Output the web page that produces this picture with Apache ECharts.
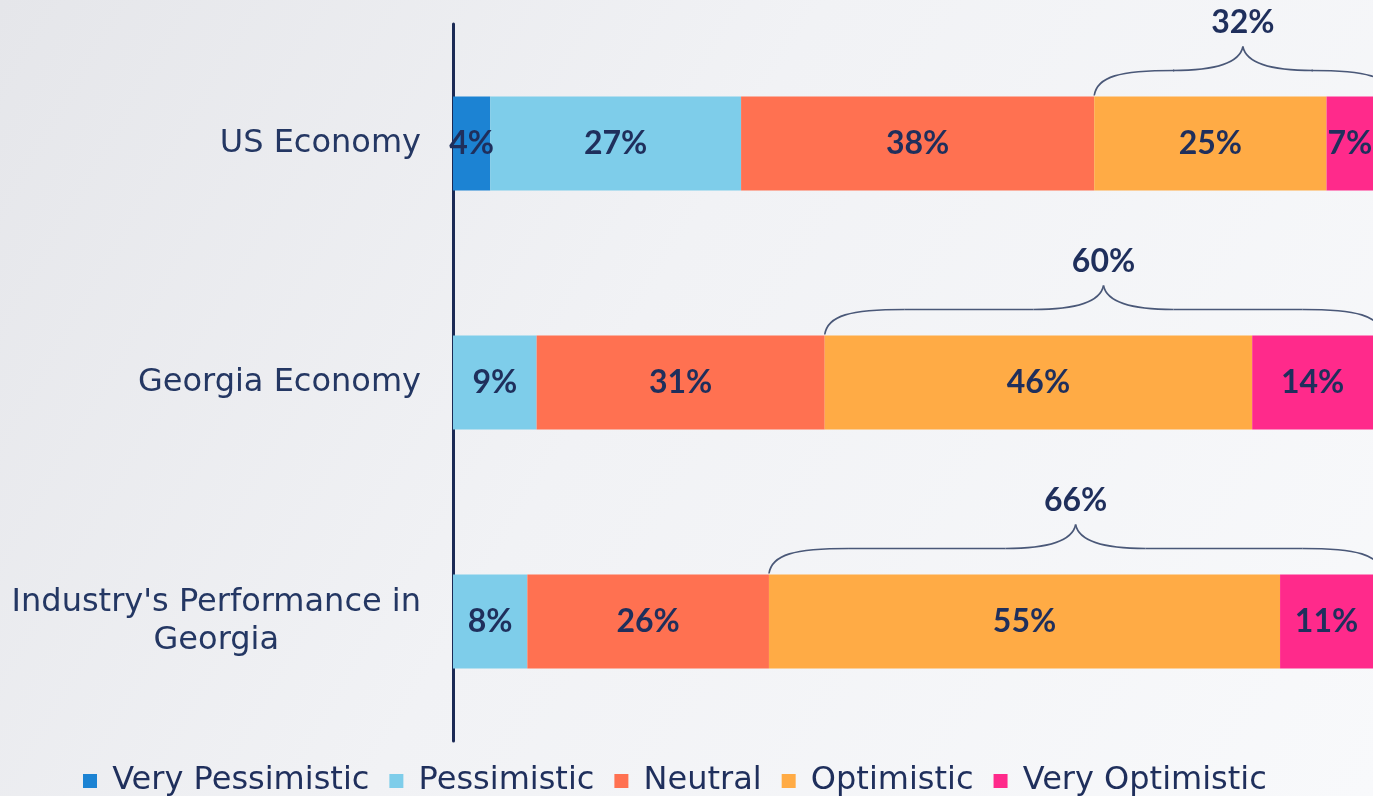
<!DOCTYPE html>
<html>
<head>
<meta charset="utf-8">
<script src="https://cdn.jsdelivr.net/npm/echarts@6/dist/echarts.min.js"></script>
<style>
html,body{margin:0;padding:0;width:1373px;height:796px;overflow:hidden;}
#c{width:1373px;height:796px;}
</style>
</head>
<body>
<div id="c"></div>
<script>
const categories = ["US Economy", "Georgia Economy", "Industry's Performance in\nGeorgia"];
const seriesNames = ["Very Pessimistic", "Pessimistic", "Neutral", "Optimistic", "Very Optimistic"];
const veryPessimistic = [4, 0, 0];
const pessimistic = [27, 9, 8];
const neutral = [38, 31, 26];
const optimistic = [25, 46, 55];
const veryOptimistic = [7, 14, 11];
const colors = ["#1c83d3", "#7ecdea", "#ff7151", "#ffab45", "#ff2a8b"];

const NAVY = "#1f2f5c";
const BAR_H = 94;
const seriesValues = [veryPessimistic, pessimistic, neutral, optimistic, veryOptimistic];

const braceData = categories.map((c, i) => {
  const start = veryPessimistic[i] + pessimistic[i] + neutral[i];
  const total = optimistic[i] + veryOptimistic[i];
  return [start, i, start + total, total];
});

const chart = echarts.init(document.getElementById('c'));

const barSeries = seriesNames.map((name, k) => ({
  name: name,
  type: 'bar',
  stack: 'total',
  barWidth: BAR_H,
  data: seriesValues[k].map(v => v === 0 ? null : v),
  itemStyle: { color: colors[k] },
  label: {
    show: true,
    position: 'inside',
    formatter: p => p.value + '%',
    color: NAVY,
    fontFamily: 'Lato',
    fontWeight: 'bold',
    fontSize: 32
  },
  z: 2
}));

const braceSeries = {
  type: 'custom',
  name: 'brace',
  data: braceData,
  encode: { x: [0, 2], y: 1 },
  clip: false,
  silent: true,
  z: 3,
  renderItem: function (params, api) {
    const a = api.coord([api.value(0), api.value(1)]);
    const b = api.coord([api.value(2), api.value(1)]);
    const x0 = a[0], x1 = b[0], yc = a[1];
    const top = yc - BAR_H / 2;
    const hY = top - 26, cY = top - 50;
    const xm = (x0 + x1) / 2;
    const st = { stroke: '#4a5878', lineWidth: 1.6, fill: null };
    return {
      type: 'group',
      children: [
        { type: 'bezierCurve', shape: { x1: x0, y1: top - 1, cpx1: x0 + 3, cpy1: hY + 6, cpx2: x0 + 25, cpy2: hY, x2: x0 + 80, y2: hY }, style: st },
        { type: 'line', shape: { x1: x0 + 80, y1: hY, x2: xm - 70, y2: hY }, style: st },
        { type: 'bezierCurve', shape: { x1: xm - 70, y1: hY, cpx1: xm - 25, cpy1: hY, cpx2: xm - 3, cpy2: hY - 8, x2: xm, y2: cY }, style: st },
        { type: 'bezierCurve', shape: { x1: xm + 70, y1: hY, cpx1: xm + 25, cpy1: hY, cpx2: xm + 3, cpy2: hY - 8, x2: xm, y2: cY }, style: st },
        { type: 'line', shape: { x1: xm + 70, y1: hY, x2: x1 - 80, y2: hY }, style: st },
        { type: 'bezierCurve', shape: { x1: x1, y1: top - 1, cpx1: x1 - 3, cpy1: hY + 6, cpx2: x1 - 25, cpy2: hY, x2: x1 - 80, y2: hY }, style: st },
        { type: 'text', style: { x: xm, y: top - 74, text: api.value(3) + '%', textAlign: 'center', textVerticalAlign: 'middle', fill: NAVY, font: 'bold 32px Lato' } }
      ]
    };
  }
};

chart.setOption({
  backgroundColor: {
    type: 'linear', x: 0, y: 0, x2: 1, y2: 1,
    colorStops: [
      { offset: 0, color: '#e5e6ea' },
      { offset: 0.45, color: '#f1f2f5' },
      { offset: 1, color: '#f8f9fb' }
    ]
  },
  animation: false,
  grid: { left: 453, top: 24, width: 920, height: 717, containLabel: false },
  legend: {
    data: seriesNames,
    top: 760,
    left: 78,
    icon: 'rect',
    itemWidth: 14,
    itemHeight: 14,
    itemGap: 20,
    formatter: name => ' ' + name,
    textStyle: { color: NAVY, fontSize: 32, fontFamily: 'DejaVu Sans' }
  },
  xAxis: {
    type: 'value', min: 0, max: 99, show: false
  },
  yAxis: {
    type: 'category',
    inverse: true,
    data: categories,
    axisTick: { show: false },
    axisLine: { show: true, lineStyle: { color: '#1b2a55', width: 3 } },
    axisLabel: {
      margin: 32,
      color: '#243763',
      fontFamily: 'DejaVu Sans',
      fontSize: 32,
      lineHeight: 38,
      formatter: function (v) {
        const parts = v.split('\n');
        if (parts.length === 1) return v;
        return parts.map(p => '{c|' + p + '}').join('\n');
      },
      rich: { c: { align: 'center', color: '#243763', fontFamily: 'DejaVu Sans', fontSize: 32, lineHeight: 38 } }
    }
  },
  series: barSeries.concat([braceSeries])
});
</script>
</body>
</html>
